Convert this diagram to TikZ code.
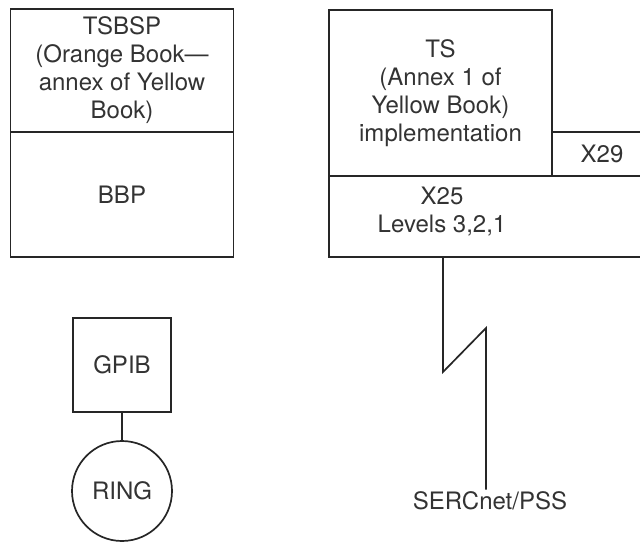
\documentclass[tikz,border=0pt]{standalone}
\usepackage{fontspec}
\setmainfont{TeX Gyre Heros}
\usepackage{tikz}

\begin{document}
\begin{tikzpicture}[x=1pt, y=-1pt,
    every node/.style={font=\fontsize{24}{28}\selectfont, text=black!80, inner sep=2pt},
    layer/.style={draw=black!85, line width=1.7pt, align=center},
    link/.style={draw=black!85, line width=1.7pt}]
      %%% page frame, the right hand boxes run off the page
      \useasboundingbox (0,0) rectangle (640,542);
      %%% left stack
      \node[layer, minimum width=223, minimum height=123] (tsbsp) at (122,70.5) {TSBSP\\(Orange Book—\\annex of Yellow\\Book)};
      \node[layer, minimum width=223, minimum height=125] (bbp) at (122,194.5) {BBP};
      %%% right stack
      \node[layer, minimum width=223, minimum height=166] (ts) at (440.5,93) {TS\\(Annex 1 of\\Yellow Book)\\implementation};
      \node[layer, minimum width=100, minimum height=44] (x29) at (602,154) {X29};
      \node[layer, minimum width=323, minimum height=81] (x25) at (490.5,216.5) {};
      \node[align=center] (x25text) at (442,212) {X25\\Levels 3,2,1};
      %%% GPIB and ring
      \node[layer, minimum width=98, minimum height=94] (gpib) at (122,365) {GPIB};
      \node[layer, circle, minimum size=100] (ring) at (122,491) {RING};
      \draw[link] (gpib.south) -- (ring.north);
      %%% line down to the network
      \node (serc) at (490,501) {SERCnet/PSS};
      \coordinate (kinkA) at (443,372);
      \coordinate (kinkB) at (486,328);
      \draw[link, line join=miter] (kinkA |- x25.south) -- (kinkA) -- (kinkB) -- (kinkB |- serc.north);
\end{tikzpicture}
\end{document}
